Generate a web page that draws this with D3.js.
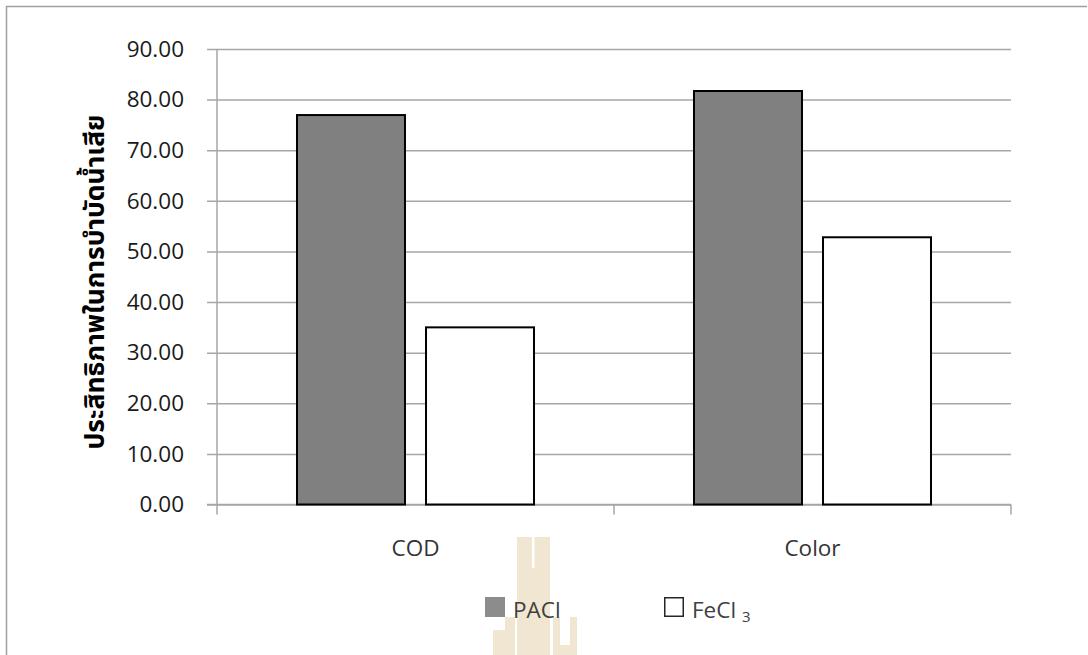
<!DOCTYPE html>
<html>
<head>
<meta charset="utf-8">
<script src="https://cdn.jsdelivr.net/npm/d3@7"></script>
<style>
  html, body { margin: 0; padding: 0; background: #fff; }
  svg { display: block; font-family: "Open Sans", "Noto Sans", sans-serif; }
</style>
</head>
<body>
<svg id="chart" width="1088" height="655"></svg>
<script>
const categories = ["COD", "Color"];
const seriesNames = ["PACl", "FeCl3"];
const pacl = [76.95, 81.7];
const fecl3 = [35.0, 52.8];
const yTicks = [0, 10, 20, 30, 40, 50, 60, 70, 80, 90];
const yLabel = "ประสิทธิภาพในการบำบัดน้ำเสีย";

(function () {
const values = [pacl, fecl3];
const fills = ["#808080", "#ffffff"];

const svg = d3.select("#chart");
const pLeft = 217, pRight = 1011, pTop = 49, pBottom = 504.5;

// outer frame (top and left border)
svg.append("path").attr("d", "M6.5,655 V6.5 H1087")
  .attr("fill", "none").attr("stroke", "#a0a0a0").attr("stroke-width", 1.5);

// watermark (approximate emblem)
const wm = svg.append("g").attr("fill", "#f0e6d2");
wm.append("path").attr("d",
  "M517,537 H550 V655 H517 Z");
wm.append("path").attr("d",
  "M505,617 H515 V655 H493 V630 H505 Z");
wm.append("path").attr("d",
  "M553,617 H560 V645 H570 V617 H577 V655 H553 Z");
wm.append("rect").attr("x", 532).attr("y", 537).attr("width", 2.5).attr("height", 31).attr("fill", "#fff");

const x = d3.scaleBand().domain(categories).range([pLeft, pRight]).paddingInner(0).paddingOuter(0);
const xs = d3.scaleBand().domain(seriesNames).range([0, x.bandwidth()]).paddingInner(0.163).paddingOuter(0.62);
const y = d3.scaleLinear().domain([0, 90]).range([pBottom, pTop]);

// y axis with grid
const yAxis = svg.append("g").attr("transform", `translate(${pLeft},0)`)
  .call(d3.axisLeft(y).tickValues(yTicks).tickSize(-(pRight - pLeft)).tickPadding(33)
    .tickFormat(d3.format(".2f")));
yAxis.select(".domain").remove();
yAxis.selectAll(".tick line").attr("x1", -10).attr("stroke", "#a6a6a6").attr("stroke-width", 1.5);
yAxis.selectAll(".tick text").attr("font-size", 22.5).attr("fill", "#1a1a1a")
  .attr("font-family", "'Open Sans', 'Noto Sans', sans-serif");

// vertical axis line
svg.append("line").attr("x1", pLeft).attr("x2", pLeft).attr("y1", pTop).attr("y2", pBottom)
  .attr("stroke", "#a6a6a6").attr("stroke-width", 1.5);

// x axis
const xAxis = svg.append("g").attr("transform", `translate(0,${pBottom})`)
  .call(d3.axisBottom(x).tickSize(0).tickPadding(36));
xAxis.select(".domain").remove();
xAxis.selectAll(".tick text").attr("font-size", 22.5).attr("fill", "#333")
  .attr("font-family", "'Open Sans', 'Noto Sans', sans-serif");
const bounds = [pLeft].concat(categories.map(c => x(c) + x.bandwidth()));
svg.append("line").attr("x1", pLeft - 10).attr("x2", pRight).attr("y1", pBottom).attr("y2", pBottom)
  .attr("stroke", "#a6a6a6").attr("stroke-width", 1.5);
svg.selectAll(".xbound").data(bounds).join("line").attr("class", "xbound")
  .attr("x1", d => d).attr("x2", d => d).attr("y1", pBottom).attr("y2", pBottom + 10)
  .attr("stroke", "#a6a6a6").attr("stroke-width", 1.5);

// bars
seriesNames.forEach((s, si) => {
  svg.append("g").selectAll("rect").data(categories).join("rect")
    .attr("x", c => x(c) + xs(s))
    .attr("y", (c, i) => y(values[si][i]))
    .attr("width", xs.bandwidth())
    .attr("height", (c, i) => pBottom - y(values[si][i]))
    .attr("fill", fills[si]).attr("stroke", "#000").attr("stroke-width", 2);
});

// y label
svg.append("text")
  .attr("transform", "translate(104,282) rotate(-90)")
  .attr("text-anchor", "middle")
  .attr("font-size", 26.5).attr("font-weight", "bold").attr("fill", "#000")
  .attr("font-family", "'Noto Sans Thai', 'Noto Sans Thai UI', 'Noto Sans', 'DejaVu Sans', sans-serif")
  .text(yLabel);

// legend
const legendX = [485, 664];
const lg = svg.append("g");
seriesNames.forEach((s, i) => {
  lg.append("rect").attr("x", legendX[i] + (i ? 0.75 : 0)).attr("y", 597 + (i ? 0.75 : 0))
    .attr("width", i ? 18.5 : 20).attr("height", i ? 18.5 : 20)
    .attr("fill", i ? "#fff" : "#8c8c8c").attr("stroke", i ? "#262626" : "none").attr("stroke-width", 1.5);
  const t = lg.append("text").attr("x", legendX[i] + 28).attr("y", 618)
    .attr("font-size", 22.5).attr("fill", "#404040");
  if (s === "FeCl3") {
    t.append("tspan").text("FeCl ");
    t.append("tspan").attr("font-size", 15).attr("dy", 4).text("3");
  } else {
    t.text(s);
  }
});
})();
</script>
</body>
</html>
